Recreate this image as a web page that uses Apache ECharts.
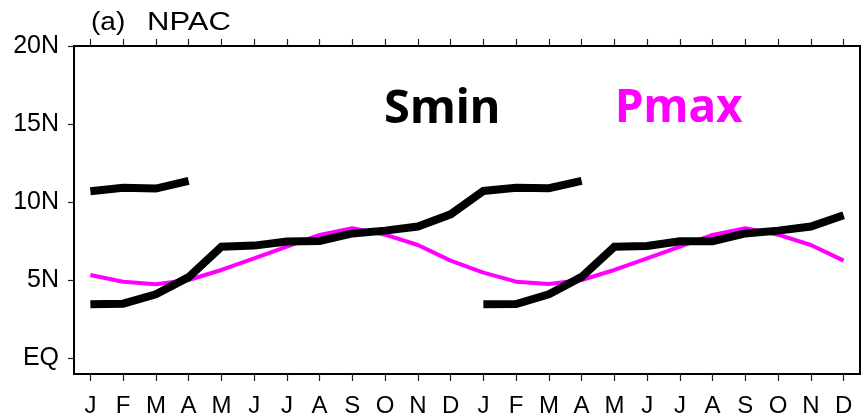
<!DOCTYPE html>
<html>
<head>
<meta charset="utf-8">
<script src="https://cdn.jsdelivr.net/npm/echarts@6/dist/echarts.min.js"></script>
<style>
  html, body { margin: 0; padding: 0; background: #fff; }
  #chart { width: 861px; height: 416px; }
</style>
</head>
<body>
<div id="chart"></div>
<script>
  // two years of months
  var months = ['J', 'F', 'M', 'A', 'M', 'J', 'J', 'A', 'S', 'O', 'N', 'D',
                'J', 'F', 'M', 'A', 'M', 'J', 'J', 'A', 'S', 'O', 'N', 'D']
  var latTicks = [0, 5, 10, 15, 20]

  // Smin, first branch (runs Jan yr1 -> Apr yr2)
  var sminA = [3.46, 3.50, 4.10, 5.20, 7.15, 7.22, 7.48, 7.52, 8.00, 8.18, 8.44, 9.22,
               10.72, 10.93, 10.90, 11.36, null, null, null, null, null, null, null, null]
  // Smin, second branch (Jan-Apr yr1 upper, then Jan yr2 -> Dec yr2)
  var sminB = [10.70, 10.92, 10.87, 11.37, null, null, null, null, null, null, null, null,
               3.46, 3.48, 4.10, 5.22, 7.15, 7.20, 7.50, 7.50, 8.00, 8.18, 8.44, 9.17]
  // Pmax
  var pmax = [5.34, 4.91, 4.74, 5.02, 5.66, 6.41, 7.15, 7.90, 8.33, 7.92, 7.26, 6.26,
              5.49, 4.91, 4.76, 5.02, 5.66, 6.41, 7.15, 7.90, 8.33, 7.92, 7.26, 6.26]

  var chart = echarts.init(document.getElementById('chart'))
  var font = 'Liberation Sans, Arial, sans-serif'
  var tickStyle = { color: '#222', width: 1.2 }

  var option = {
    animation: false,
    grid: [
      // frame
      { left: 74, right: 1, top: 46, bottom: 42, outerBoundsMode: 'none', containLabel: false,
        show: true, borderColor: '#000', borderWidth: 2 },
      // 0..20 label grid
      { left: 74, right: 1, top: 46, bottom: 57.7, outerBoundsMode: 'none', containLabel: false }
    ],
    xAxis: [
      {
        gridIndex: 0,
        type: 'category',
        data: months,
        boundaryGap: true,
        axisLine: { show: true, onZero: false, lineStyle: { color: '#000', width: 2 } },
        axisTick: { show: true, inside: false, alignWithLabel: true, interval: 0, length: 7, lineStyle: tickStyle },
        axisLabel: { color: '#000', fontSize: 24, fontFamily: font, margin: 20, interval: 0 },
        splitLine: { show: false }
      },
      {
        gridIndex: 0,
        type: 'category',
        position: 'top',
        data: months,
        boundaryGap: true,
        axisLine: { show: true, onZero: false, lineStyle: { color: '#000', width: 2 } },
        axisTick: { show: true, inside: false, alignWithLabel: true, interval: 0, length: 7, lineStyle: tickStyle },
        axisLabel: { show: false },
        splitLine: { show: false }
      },
      {
        gridIndex: 1,
        type: 'category',
        data: months,
        show: false
      }
    ],
    yAxis: [
      {
        gridIndex: 0,
        type: 'value',
        min: -1,
        max: 20,
        axisLine: { show: true, lineStyle: { color: '#000', width: 2 } },
        axisTick: { show: false },
        axisLabel: { show: false },
        splitLine: { show: false }
      },
      {
        gridIndex: 1,
        type: 'value',
        min: latTicks[0],
        max: latTicks[latTicks.length - 1],
        interval: 5,
        axisLine: { show: false },
        axisTick: { show: true, length: 6, lineStyle: tickStyle },
        axisLabel: {
          color: '#000',
          fontSize: 25,
          fontFamily: font,
          margin: 15,
          formatter: function (v) { return v === 0 ? 'EQ' : v + 'N' }
        },
        splitLine: { show: false }
      }
    ],
    graphic: [
      {
        type: 'text', left: 91, top: 11, scaleX: 1.12,
        style: { text: '(a)', fill: '#000', font: '25px ' + font }
      },
      {
        type: 'text', left: 147, top: 11, scaleX: 1.24,
        style: { text: 'NPAC', fill: '#000', font: '25px ' + font }
      },
      {
        type: 'text', left: 384, top: 86,
        style: { text: 'Smin', fill: '#000', font: 'bold 47px "Noto Sans"' }
      },
      {
        type: 'text', left: 615, top: 86,
        style: { text: 'Pmax', fill: '#ff00ff', font: 'bold 46px "Noto Sans"' }
      }
    ],
    series: [
      {
        name: 'Pmax',
        type: 'line',
        xAxisIndex: 0,
        yAxisIndex: 0,
        data: pmax,
        symbol: 'none',
        lineStyle: { color: '#ff00ff', width: 4 }
      },
      {
        name: 'Smin',
        type: 'line',
        xAxisIndex: 0,
        yAxisIndex: 0,
        data: sminA,
        symbol: 'none',
        lineStyle: { color: '#000', width: 8, join: 'miter' }
      },
      {
        name: 'Smin',
        type: 'line',
        xAxisIndex: 0,
        yAxisIndex: 0,
        data: sminB,
        symbol: 'none',
        lineStyle: { color: '#000', width: 8, join: 'miter' }
      }
    ]
  }
  chart.setOption(option)
</script>
</body>
</html>
